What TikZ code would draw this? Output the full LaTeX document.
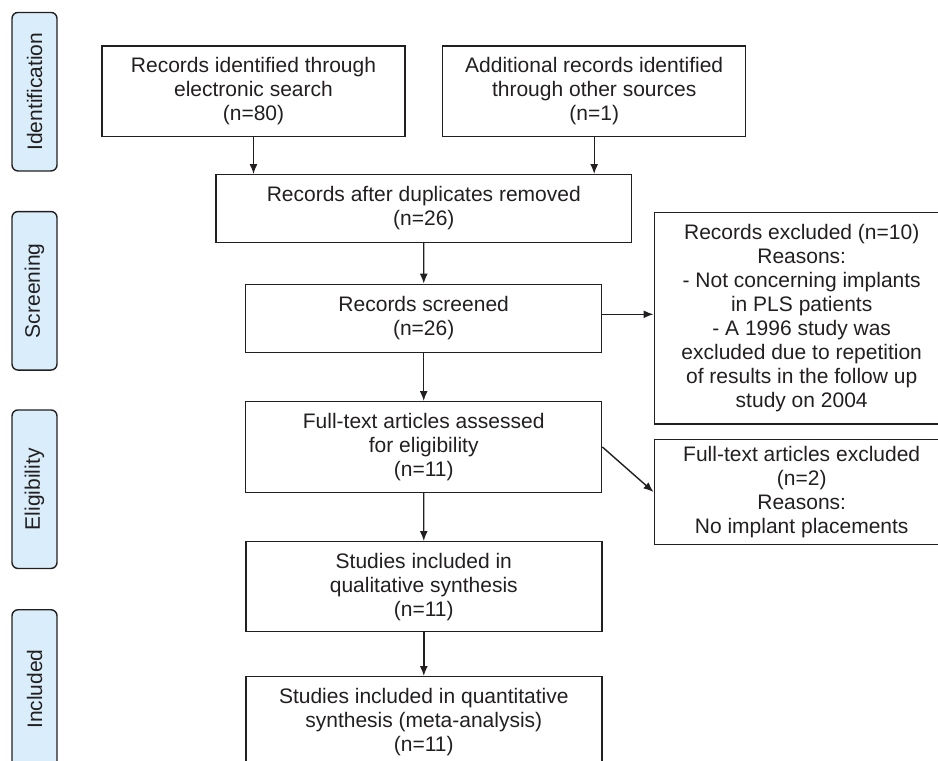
\documentclass[tikz,border=0pt]{standalone}
\usepackage{fontspec}
\setmainfont{Liberation Sans}
\usetikzlibrary{arrows.meta}
\definecolor{phasefill}{HTML}{D9EEFA}
\definecolor{inkline}{HTML}{231F20}

\begin{document}
\begin{tikzpicture}[x=1pt,y=-1pt]

    \tikzset{box/.style = {shape=rectangle,draw=inkline,line width=1.4pt,inner sep=0pt,align=center,text=inkline,font=\fontsize{21}{24}\selectfont}}
    \tikzset{phase/.style = {box,rounded corners=6pt,fill=phasefill,minimum width=158.5pt,minimum height=45pt,rotate=90}}
    \tikzset{edge/.style = {->,>={Latex[length=10pt,width=8pt]},draw=inkline,line width=1.4pt}}

    \useasboundingbox (0,0) rectangle (938,761);

    \node[phase] (ident) at (34.5,91.7) {Identification};
    \node[phase] (screen) at (34.5,290.8) {Screening};
    \node[phase] (elig) at (34.5,489.2) {Eligibility};
    \node[phase] (incl) at (34.5,689) {Included};

    \node[box,minimum width=303pt,minimum height=90.7pt] (search) at (253.5,91.3) {Records identified through\\electronic search\\(n=80)};
    \node[box,minimum width=303pt,minimum height=90.7pt] (other) at (594.2,91.3) {Additional records identified\\through other sources\\(n=1)};
    \node[box,minimum width=415.7pt,minimum height=67.6pt] (dupl) at (423.8,208.5) {Records after duplicates removed\\(n=26)};
    \node[box,minimum width=356pt,minimum height=68pt] (screened) at (423.7,318.3) {Records screened\\(n=26)};
    \node[box,minimum width=295pt,minimum height=211.7pt] (excl) at (801.7,318.2) {Records excluded (n=10)\\Reasons:\\- Not concerning implants\\in PLS patients\\- A 1996 study was\\excluded due to repetition\\of results in the follow up\\study on 2004};
    \node[box,minimum width=356pt,minimum height=90.6pt] (fulltext) at (423.7,447) {Full-text articles assessed\\for eligibility\\(n=11)};
    \node[box,minimum width=295pt,minimum height=105.4pt] (ftexcl) at (801.7,492) {Full-text articles excluded\\(n=2)\\Reasons:\\No implant placements};
    \node[box,minimum width=356pt,minimum height=90pt] (qual) at (423.8,586.7) {Studies included in\\qualitative synthesis\\(n=11)};
    \node[box,minimum width=356pt,minimum height=90.6pt] (quant) at (423.8,722) {Studies included in quantitative\\synthesis (meta-analysis)\\(n=11)};

    \draw[edge] (search) -- (search |- dupl.north);
    \draw[edge] (other) -- (other |- dupl.north);
    \draw[edge] (dupl) -- (screened);
    \draw[edge] ([yshift=4pt]screened.east) -- ([yshift=4pt]screened.east -| excl.west);
    \draw[edge] (screened) -- (fulltext);
    \draw[edge] (fulltext.east) -- (ftexcl.west);
    \draw[edge] (fulltext) -- (qual);
    \draw[edge] (qual) -- (quant);

\end{tikzpicture}
\end{document}
